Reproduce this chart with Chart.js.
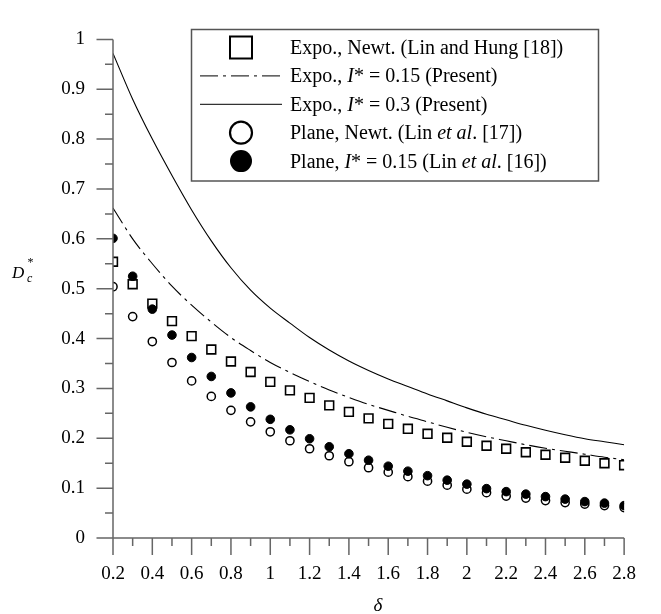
<!DOCTYPE html>
<html>
<head>
<meta charset="utf-8">
<script src="https://cdn.jsdelivr.net/npm/chart.js@4.4.1/dist/chart.umd.min.js"></script>
<style>
  html, body { margin: 0; padding: 0; background: #fff; }
  canvas { display: block; }
</style>
</head>
<body>
<canvas id="chart" width="661" height="614"></canvas>
<script>
// --- data ---
const delta = [0.2, 0.3, 0.4, 0.5, 0.6, 0.7, 0.8, 0.9, 1.0, 1.1, 1.2, 1.3, 1.4, 1.5,
               1.6, 1.7, 1.8, 1.9, 2.0, 2.1, 2.2, 2.3, 2.4, 2.5, 2.6, 2.7, 2.8];

// squares: Expo., Newt. (Lin and Hung [18])
const expoNewt = [0.554, 0.509, 0.470, 0.435, 0.405, 0.378, 0.354, 0.333, 0.313, 0.296,
                  0.281, 0.266, 0.253, 0.240, 0.229, 0.219, 0.209, 0.201, 0.193, 0.185,
                  0.179, 0.172, 0.167, 0.161, 0.155, 0.150, 0.146];
// open circles: Plane, Newt. (Lin et al. [17])
const planeNewt = [0.504, 0.444, 0.394, 0.352, 0.315, 0.284, 0.256, 0.233, 0.213, 0.195,
                   0.179, 0.165, 0.153, 0.141, 0.132, 0.123, 0.114, 0.106, 0.098, 0.091,
                   0.084, 0.080, 0.075, 0.071, 0.068, 0.065, 0.061];
// filled circles: Plane, I* = 0.15 (Lin et al. [16])
const planeI015 = [0.601, 0.525, 0.459, 0.407, 0.362, 0.324, 0.291, 0.263, 0.238, 0.217,
                   0.199, 0.183, 0.169, 0.156, 0.144, 0.134, 0.125, 0.116, 0.108, 0.099,
                   0.093, 0.088, 0.083, 0.078, 0.073, 0.070, 0.065];
// dash-dot curve: Expo., I* = 0.15 (Present)
const expoI015 = [0.662, 0.600, 0.550, 0.505, 0.467, 0.433, 0.402, 0.376, 0.352, 0.332,
                  0.314, 0.297, 0.282, 0.268, 0.256, 0.244, 0.233, 0.222, 0.212, 0.203,
                  0.195, 0.187, 0.180, 0.174, 0.168, 0.162, 0.157];
// solid curve: Expo., I* = 0.3 (Present)
const expoI03 = [0.972, 0.880, 0.800, 0.727, 0.658, 0.596, 0.542, 0.497, 0.461, 0.431,
                 0.402, 0.377, 0.355, 0.336, 0.319, 0.304, 0.289, 0.275, 0.261, 0.248,
                 0.237, 0.226, 0.216, 0.207, 0.199, 0.193, 0.187];

// legend rows: [marker, segments of [text, italic]]
const legendRows = [
  ['square', [['Expo., Newt. (Lin and Hung [18])', false]]],
  ['dashdot', [['Expo., ', false], ['I', true], ['* = 0.15 (Present)', false]]],
  ['solid', [['Expo., ', false], ['I', true], ['* = 0.3 (Present)', false]]],
  ['open', [['Plane, Newt. (Lin ', false], ['et al', true], ['. [17])', false]]],
  ['filled', [['Plane, ', false], ['I', true], ['* = 0.15 (Lin ', false], ['et al', true], ['. [16])', false]]]
];

const SERIF = '"Liberation Serif", "Times New Roman", serif';
const AXIS = '#666';
const DASH = [18, 5, 3, 5];

const pts = ys => delta.map((d, i) => ({ x: d, y: ys[i] }));

// axis lines with major/minor ticks, drawn from the scales
const axesPlugin = {
  id: 'axes',
  afterDraw(chart) {
    const { ctx, scales: { x, y } } = chart;
    const x0 = x.getPixelForValue(0.2), x1 = x.getPixelForValue(2.8);
    const y0 = y.getPixelForValue(0), y1 = y.getPixelForValue(1);
    ctx.save();
    ctx.strokeStyle = AXIS;
    ctx.lineWidth = 1.5;
    ctx.beginPath();
    ctx.moveTo(x0, y1); ctx.lineTo(x0, y0 + 17);
    ctx.moveTo(x0 - 16.5, y0); ctx.lineTo(x1, y0);
    for (let k = 0; k <= 20; k++) {
      const py = y.getPixelForValue(k * 0.05);
      ctx.moveTo(x0, py); ctx.lineTo(x0 - (k % 2 ? 8 : 16.5), py);
    }
    for (let k = 0; k <= 26; k++) {
      const px = x.getPixelForValue(0.2 + k * 0.1);
      ctx.moveTo(px, y0); ctx.lineTo(px, y0 + (k % 2 ? 8 : 17));
    }
    ctx.stroke();

    // axis titles
    ctx.fillStyle = '#000';
    ctx.textBaseline = 'alphabetic';
    ctx.font = 'italic 19px ' + SERIF;
    ctx.textAlign = 'center';
    ctx.fillText('\u03b4', 378, 611);
    ctx.textAlign = 'left';
    ctx.font = 'italic 17px ' + SERIF;
    ctx.fillText('D', 12, 278);
    ctx.font = 'italic 12px ' + SERIF;
    ctx.fillText('c', 27, 282);
    ctx.font = '12px ' + SERIF;
    ctx.fillText('*', 27.5, 266);
    ctx.restore();
  }
};

// boxed legend with mixed upright / italic text
const legendPlugin = {
  id: 'boxLegend',
  afterDraw(chart) {
    const ctx = chart.ctx;
    const bx = 191.5, by = 29.5, bw = 407, bh = 151.5;
    const cx = 241, tx = 290, rowY0 = 47.5, rowGap = 28.4;
    ctx.save();
    ctx.fillStyle = '#fff';
    ctx.fillRect(bx, by, bw, bh);
    ctx.strokeStyle = '#555';
    ctx.lineWidth = 1.5;
    ctx.strokeRect(bx, by, bw, bh);
    legendRows.forEach(([marker, segs], i) => {
      const cy = rowY0 + i * rowGap;
      ctx.strokeStyle = '#000';
      ctx.fillStyle = '#000';
      ctx.setLineDash([]);
      if (marker === 'square') {
        ctx.lineWidth = 2;
        ctx.strokeRect(cx - 11, cy - 11, 22, 22);
      } else if (marker === 'dashdot' || marker === 'solid') {
        ctx.lineWidth = 1.2;
        ctx.strokeStyle = '#333';
        if (marker === 'dashdot') ctx.setLineDash(DASH);
        ctx.beginPath();
        ctx.moveTo(200, cy); ctx.lineTo(282, cy);
        ctx.stroke();
        ctx.setLineDash([]);
      } else {
        ctx.lineWidth = 2.2;
        ctx.beginPath();
        ctx.arc(cx, cy, 11, 0, Math.PI * 2);
        if (marker === 'filled') ctx.fill(); else ctx.stroke();
      }
      let px = tx;
      ctx.fillStyle = '#000';
      ctx.textAlign = 'left';
      ctx.textBaseline = 'alphabetic';
      segs.forEach(([t, it]) => {
        ctx.font = (it ? 'italic ' : '') + '20px ' + SERIF;
        ctx.fillText(t, px, cy + 6.5);
        px += ctx.measureText(t).width;
      });
    });
    ctx.restore();
  }
};

new Chart(document.getElementById('chart'), {
  type: 'line',
  data: {
    datasets: [
      {
        label: 'Plane, I* = 0.15 (Lin et al. [16])',
        data: pts(planeI015), showLine: false, order: 1,
        pointStyle: 'circle', pointRadius: 4.3,
        pointBackgroundColor: '#000', pointBorderColor: '#000', pointBorderWidth: 1
      },
      {
        label: 'Expo., Newt. (Lin and Hung [18])',
        data: pts(expoNewt), showLine: false, order: 2,
        pointStyle: 'rect', pointRadius: 6.2,
        pointBackgroundColor: '#fff', pointBorderColor: '#000', pointBorderWidth: 1.6
      },
      {
        label: 'Plane, Newt. (Lin et al. [17])',
        data: pts(planeNewt), showLine: false, order: 3,
        pointStyle: 'circle', pointRadius: 4.1,
        pointBackgroundColor: '#fff', pointBorderColor: '#000', pointBorderWidth: 1.5
      },
      {
        label: 'Expo., I* = 0.15 (Present)',
        data: pts(expoI015), order: 4,
        borderColor: '#000', borderWidth: 1.1, borderDash: DASH,
        pointRadius: 0, cubicInterpolationMode: 'monotone', fill: false
      },
      {
        label: 'Expo., I* = 0.3 (Present)',
        data: pts(expoI03), order: 5,
        borderColor: '#000', borderWidth: 1.1,
        pointRadius: 0, cubicInterpolationMode: 'monotone', fill: false
      }
    ]
  },
  options: {
    responsive: false,
    animation: false,
    devicePixelRatio: 1,
    layout: { padding: { left: 0, right: 33, top: 23, bottom: 0 } },
    plugins: { legend: { display: false }, tooltip: { enabled: false } },
    scales: {
      x: {
        type: 'linear', min: 0.2, max: 2.8,
        grid: { display: false, drawTicks: false },
        border: { display: false },
        ticks: {
          stepSize: 0.2, padding: 25, color: '#000',
          font: { family: SERIF, size: 19 },
          callback: v => String(+v.toFixed(1))
        },
        afterFit: s => { s.height = 76; }
      },
      y: {
        type: 'linear', min: 0, max: 1,
        grid: { display: false, drawTicks: false },
        border: { display: false },
        ticks: {
          stepSize: 0.1, padding: 28, color: '#000',
          font: { family: SERIF, size: 19 },
          callback: v => String(+v.toFixed(1))
        },
        afterFit: s => { s.width = 113; }
      }
    }
  },
  plugins: [axesPlugin, legendPlugin]
});
</script>
</body>
</html>
